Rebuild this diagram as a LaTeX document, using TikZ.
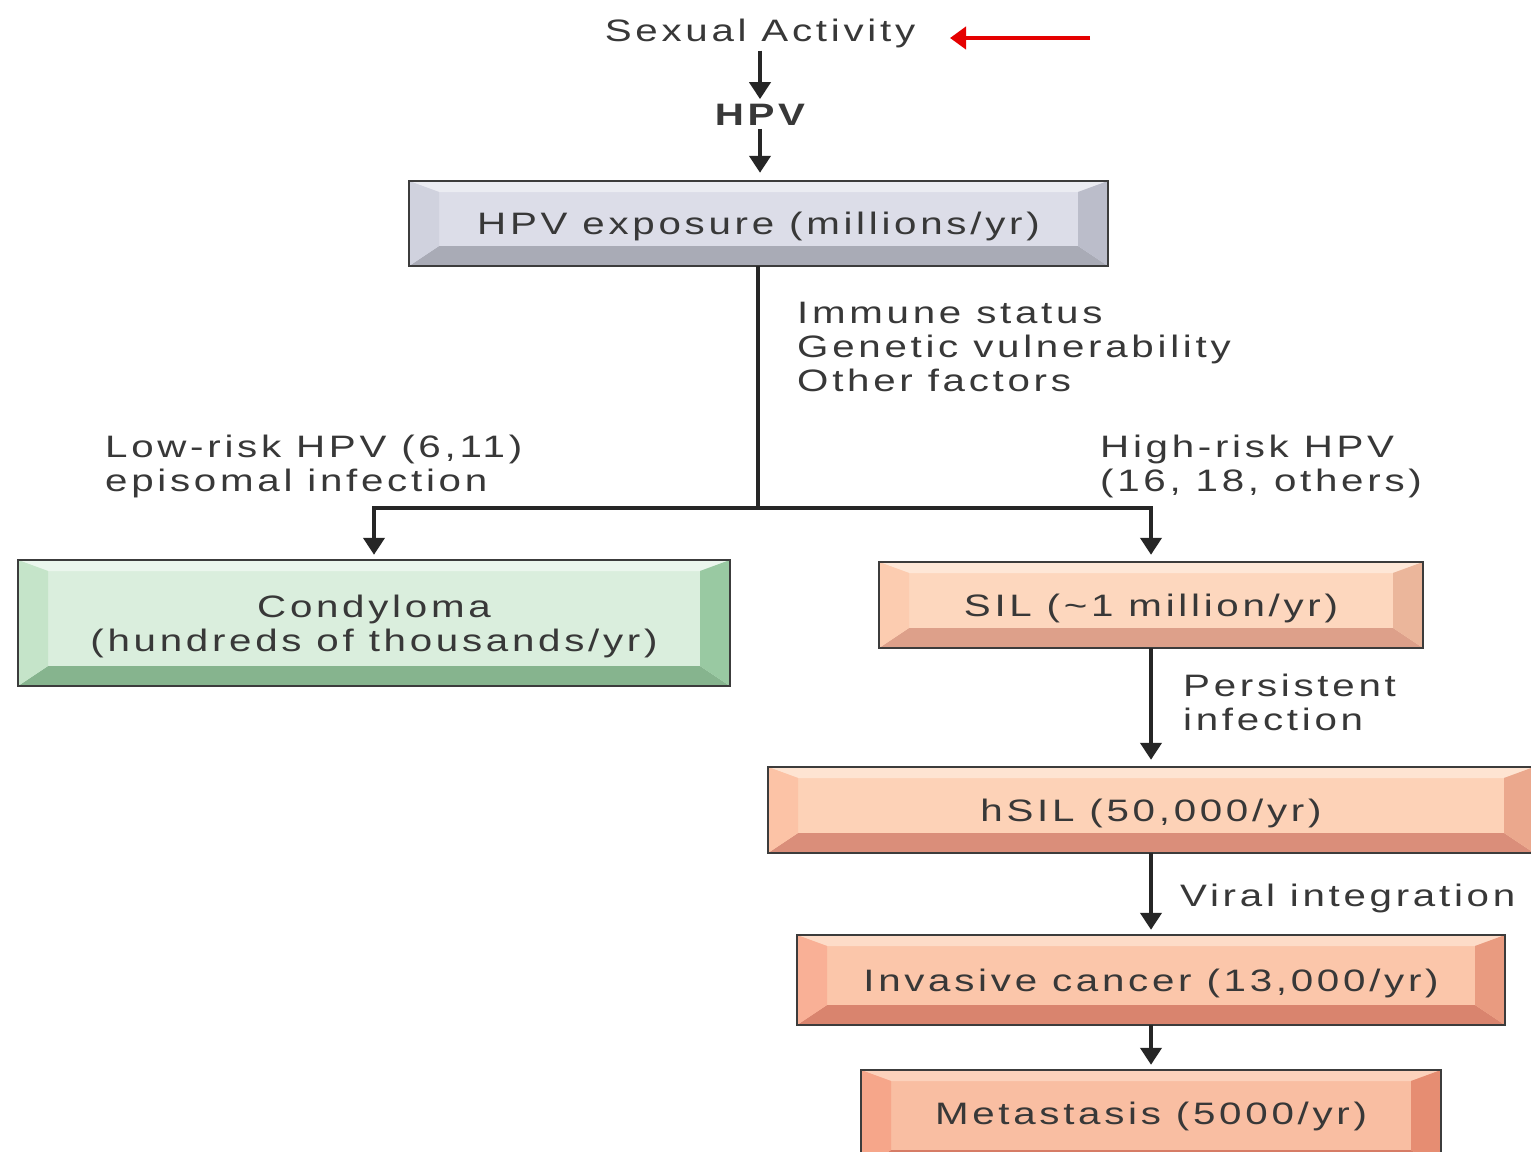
\documentclass[tikz,border=0pt]{standalone}
\usepackage{fontspec}
\setmainfont{Liberation Sans}[FakeStretch=1.3,LetterSpace=12]
\usetikzlibrary{arrows.meta}
\definecolor{txt}{HTML}{383838}
\definecolor{edge}{HTML}{3C3C3C}
\definecolor{gtop}{HTML}{EBECF2}\definecolor{gface}{HTML}{DCDDE8}\definecolor{gleft}{HTML}{D0D2DE}\definecolor{gright}{HTML}{BBBDCA}\definecolor{gbot}{HTML}{A9ABB6}
\definecolor{ntop}{HTML}{EBF6ED}\definecolor{nface}{HTML}{DAEEDD}\definecolor{nleft}{HTML}{C5E4C9}\definecolor{nright}{HTML}{99C9A2}\definecolor{nbot}{HTML}{86B48E}
\definecolor{stop}{HTML}{FEE7D7}\definecolor{sface}{HTML}{FDD7BE}\definecolor{sleft}{HTML}{FCCCB0}\definecolor{sright}{HTML}{EBB69B}\definecolor{sbot}{HTML}{DDA08A}
\definecolor{htop}{HTML}{FEE4D2}\definecolor{hface}{HTML}{FDD2B7}\definecolor{hleft}{HTML}{FCC3A6}\definecolor{hright}{HTML}{EBA88D}\definecolor{hbot}{HTML}{DA8E7A}
\definecolor{itop}{HTML}{FDDCC8}\definecolor{iface}{HTML}{FBC6AA}\definecolor{ileft}{HTML}{F9B096}\definecolor{iright}{HTML}{E99B80}\definecolor{ibot}{HTML}{D9846E}
\definecolor{mtop}{HTML}{FCD2BC}\definecolor{mface}{HTML}{F9BEA2}\definecolor{mleft}{HTML}{F6A68A}\definecolor{mright}{HTML}{E68D72}\definecolor{mbot}{HTML}{D67C66}
\newcommand\bw{30}\newcommand\bt{11}\newcommand\bb{20}
% #1 name, #2 colour prefix, #3 x1, #4 y1, #5 x2, #6 y2, #7 text
\newcommand\bevbox[7]{%
  \fill[#2face] (#3,#4) rectangle (#5,#6);
  \fill[#2top] (#3,#4) -- (#5,#4) -- ({#5-\bw},{#4+\bt}) -- ({#3+\bw},{#4+\bt}) -- cycle;
  \fill[#2bot] (#3,#6) -- (#5,#6) -- ({#5-\bw},{#6-\bb}) -- ({#3+\bw},{#6-\bb}) -- cycle;
  \fill[#2left] (#3,#4) -- ({#3+\bw},{#4+\bt}) -- ({#3+\bw},{#6-\bb}) -- (#3,#6) -- cycle;
  \fill[#2right] (#5,#4) -- ({#5-\bw},{#4+\bt}) -- ({#5-\bw},{#6-\bb}) -- (#5,#6) -- cycle;
  \draw[boxedge] (#3,#4) rectangle (#5,#6);
  \node[boxtext, minimum width={(#5-#3)*1pt}, minimum height={(#6-#4)*1pt}] (#1) at ({(#3+#5)/2},{(#4+#6)/2}) {};
  \node[boxtext, yshift=-3pt] (#1-t) at (#1.center) {#7};
}
\begin{document}
\begin{tikzpicture}[x=1pt,y=-1pt,
  every node/.style={font=\fontsize{31}{34}\selectfont, text=txt},
  boxtext/.style={inner sep=0pt, align=center},
  boxedge/.style={draw=edge, line width=2pt},
  lbl/.style={inner sep=0pt, align=left, anchor=west},
  conn/.style={draw=black!85, line width=4pt},
  arr/.style={conn, -{Triangle[width=21pt,length=17pt]}},
  redarr/.style={draw=red!90!black, line width=4pt, -{Triangle[width=22pt,length=16pt]}}]
\fill[white] (0,0) rectangle (1531,1151);
\useasboundingbox (0,0) rectangle (1531,1151);

% top texts
\node[inner sep=3pt] (sa) at (760,33) {Sexual Activity};
\node[inner sep=3pt, font=\fontsize{31}{34}\selectfont\bfseries] (hpv) at (760,115) {HPV};

% boxes
\bevbox{expo}{g}{409}{181}{1108}{266}{HPV exposure (millions/yr)}
\bevbox{condy}{n}{18}{560}{730}{686}{Condyloma\\(hundreds of thousands/yr)}
\bevbox{sil}{s}{879}{562}{1423}{648}{SIL (\textasciitilde1 million/yr)}
\bevbox{hsil}{h}{768}{767}{1534}{853}{hSIL (50,000/yr)}
\bevbox{inv}{i}{797}{935}{1505}{1025}{Invasive cancer (13,000/yr)}
\bevbox{meta}{m}{861}{1070}{1441}{1170}{}
\node[boxtext] (metatxt) at (1151,1116) {Metastasis (5000/yr)};

% labels
\node[lbl] (fac) at (797,347) {Immune status\\Genetic vulnerability\\Other factors};
\node[lbl] (low) at (105,466) {Low-risk HPV (6,11)\\episomal infection};
\node[lbl] (high) at (1100,466) {High-risk HPV\\(16, 18, others)};
\node[lbl] (pers) at (1183,702) {Persistent\\infection};
\node[lbl] (viral) at (1180,898) {Viral integration};

% connectors
\draw[arr, shorten >=2pt] (sa) -- (hpv);
\draw[arr, shorten >=8pt] (hpv) -- (hpv |- expo.north);
\coordinate (split) at (758,508);
\draw[conn] (expo.south -| split) -- (split);
\draw[arr, shorten >=5pt] (split) -| (condy.north);
\draw[arr, shorten >=7pt] (split) -| (sil.north);
\draw[arr, shorten >=7pt] (sil) -- (hsil);
\draw[arr, shorten >=5pt] (hsil) -- (inv);
\draw[arr, shorten >=5pt] (inv) -- (meta);

% red arrow
\coordinate (redstart) at (1090,38);
\coordinate (redend) at (950,38);
\draw[redarr] (redstart) -- (redend);
\end{tikzpicture}
\end{document}
